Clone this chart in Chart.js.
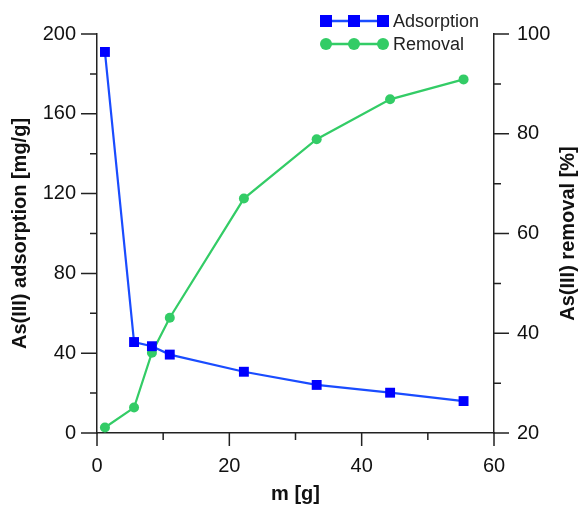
<!DOCTYPE html>
<html>
<head>
<meta charset="utf-8">
<script src="https://cdn.jsdelivr.net/npm/chart.js@4"></script>
<style>
  html, body { margin: 0; padding: 0; background: #fff; }
  #wrap { width: 580px; height: 506px; }
</style>
</head>
<body>
<div id="wrap"><canvas id="chart"></canvas></div>
<script>
// values
const mass = [1.2, 5.6, 8.3, 11.0, 22.2, 33.2, 44.3, 55.4];
const adsorption = [191, 45.6, 43.5, 39.3, 30.7, 24.1, 20.2, 16.0];
const removal = [21.1, 25.1, 36.1, 43.1, 67.0, 78.9, 86.9, 90.9];

const xTicks = [0, 20, 40, 60];
const leftTicks = [0, 40, 80, 120, 160, 200];
const rightTicks = [20, 40, 60, 80, 100];

const BLUE = "#0000ff";
const BLUE_LINE = "#1a4cff";
const GREEN = "#33cc66";
const FONT = "'Liberation Sans', Arial, sans-serif";
const RIGHT_TITLE = "As(III) removal [%]";

function toPoints(xs, ys) {
    return xs.map((x, i) => ({ x: x, y: ys[i] }));
}

// ticks: long majors, short minors, drawn outside the axes
const tickMarks = {
    id: "tickMarks",
    afterDraw(chart) {
        const ctx = chart.ctx;
        const { x, y, y2 } = chart.scales;
        const area = chart.chartArea;
        ctx.save();
        ctx.strokeStyle = "#222";
        ctx.lineWidth = 1.5;
        ctx.beginPath();
        for (let v = 0; v <= 200; v += 20) {
            const p = y.getPixelForValue(v);
            const len = v % 40 === 0 ? 16 : 7;
            ctx.moveTo(area.left - len, p);
            ctx.lineTo(area.left, p);
        }
        for (let v = 20; v <= 100; v += 10) {
            const p = y2.getPixelForValue(v);
            const len = v % 20 === 0 ? 15 : 7;
            ctx.moveTo(area.right, p);
            ctx.lineTo(area.right + len, p);
        }
        for (let v = 0; v <= 60; v += 10) {
            const p = x.getPixelForValue(v);
            const len = v % 20 === 0 ? 13 : 7;
            ctx.moveTo(p, area.bottom);
            ctx.lineTo(p, area.bottom + len);
        }
        ctx.stroke();

        // right axis title reads bottom to top, like the left one
        ctx.fillStyle = "#111";
        ctx.font = "bold 20px " + FONT;
        ctx.textAlign = "center";
        ctx.textBaseline = "middle";
        ctx.translate(568, (area.top + area.bottom) / 2);
        ctx.rotate(-Math.PI / 2);
        ctx.fillText(RIGHT_TITLE, 0, 0);
        ctx.restore();
    }
};

// legend with three markers on each sample line
const markerLegend = {
    id: "markerLegend",
    afterDraw(chart) {
        const ctx = chart.ctx;
        const rows = [
            { label: "Adsorption", line: BLUE_LINE, fill: BLUE, shape: "rect", y: 21 },
            { label: "Removal", line: GREEN, fill: GREEN, shape: "circle", y: 44 }
        ];
        const xs = [326, 354, 383];
        ctx.save();
        rows.forEach(r => {
            ctx.strokeStyle = r.line;
            ctx.lineWidth = 2.5;
            ctx.beginPath();
            ctx.moveTo(xs[0], r.y);
            ctx.lineTo(xs[2], r.y);
            ctx.stroke();
            ctx.fillStyle = r.fill;
            xs.forEach(px => {
                ctx.beginPath();
                if (r.shape === "rect") {
                    ctx.rect(px - 6, r.y - 6, 12, 12);
                } else {
                    ctx.arc(px, r.y, 6, 0, Math.PI * 2);
                }
                ctx.fill();
            });
            ctx.fillStyle = "#222";
            ctx.font = "18px " + FONT;
            ctx.textBaseline = "middle";
            ctx.textAlign = "left";
            ctx.fillText(r.label, 393, r.y + 1);
        });
        ctx.restore();
    }
};

new Chart(document.getElementById("chart"), {
    type: "scatter",
    data: {
        datasets: [{
            label: "Adsorption",
            data: toPoints(mass, adsorption),
            yAxisID: "y",
            showLine: true,
            borderColor: BLUE_LINE,
            borderWidth: 2.2,
            pointStyle: "rect",
            pointRadius: 7,
            pointBackgroundColor: BLUE,
            pointBorderColor: BLUE,
            pointBorderWidth: 0
        }, {
            label: "Removal",
            data: toPoints(mass, removal),
            yAxisID: "y2",
            showLine: true,
            borderColor: GREEN,
            borderWidth: 2.2,
            pointStyle: "circle",
            pointRadius: 5,
            pointBackgroundColor: GREEN,
            pointBorderColor: GREEN,
            pointBorderWidth: 0
        }]
    },
    options: {
        responsive: true,
        maintainAspectRatio: false,
        animation: false,
        layout: { padding: { top: 34 } },
        plugins: {
            legend: { display: false },
            tooltip: { enabled: false }
        },
        scales: {
            x: {
                type: "linear",
                min: 0,
                max: 60,
                afterBuildTicks: s => { s.ticks = xTicks.map(v => ({ value: v })); },
                afterFit: s => { s.height = 73; },
                grid: { display: false },
                border: { display: true, color: "#222", width: 1.5 },
                ticks: { padding: 13, color: "#111", font: { family: FONT, size: 20 } },
                title: {
                    display: true,
                    text: "m [g]",
                    color: "#111",
                    padding: { top: 0, bottom: 0 },
                    font: { family: FONT, size: 20, weight: "bold" }
                }
            },
            y: {
                position: "left",
                min: 0,
                max: 200,
                afterBuildTicks: s => { s.ticks = leftTicks.map(v => ({ value: v })); },
                afterFit: s => { s.width = 97; },
                grid: { display: false },
                border: { display: true, color: "#222", width: 1.5 },
                ticks: { padding: 13, color: "#111", font: { family: FONT, size: 20 } },
                title: {
                    display: true,
                    text: "As(III) adsorption [mg/g]",
                    color: "#111",
                    padding: { top: 8, bottom: 0 },
                    font: { family: FONT, size: 20, weight: "bold" }
                }
            },
            y2: {
                position: "right",
                min: 20,
                max: 100,
                afterBuildTicks: s => { s.ticks = rightTicks.map(v => ({ value: v })); },
                afterFit: s => { s.width = 86; },
                grid: { display: false },
                border: { display: true, color: "#222", width: 1.5 },
                ticks: { padding: 15, color: "#111", font: { family: FONT, size: 20 } },
                title: { display: false }
            }
        }
    },
    plugins: [tickMarks, markerLegend]
});
</script>
</body>
</html>
